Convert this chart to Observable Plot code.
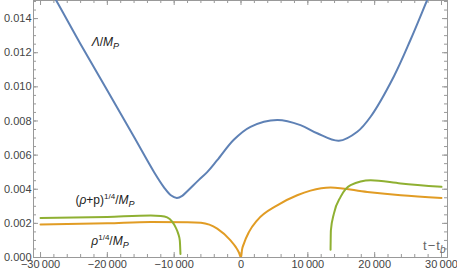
<!DOCTYPE html>
<html><head><meta charset="utf-8">
<script src="https://cdn.jsdelivr.net/npm/d3@7"></script>
<script src="https://cdn.jsdelivr.net/npm/@observablehq/plot@0.6"></script>
<style>body{margin:0;background:#fff} svg{display:block}</style>
</head><body><div id="chart"></div>
<script>
// Λ/M_P
const tLambda = [-30000,-28000,-24000,-20000,-16000,-13000,-11500,-10500,-9600,-8800,-8000,-6300,-5060,-3560,-1080,1420,5420,8900,11400,14640,17400,19390,22870,25370,27870,30000];
const vLambda = [0.0166,0.0153,0.0125,0.00978,0.00706,0.0050,0.0041,0.00365,0.00349,0.00361,0.00390,0.00455,0.0050,0.0057,0.0069,0.00766,0.00806,0.00776,0.00728,0.00684,0.00737,0.00825,0.01061,0.01276,0.0151,0.0171];
// ρ^{1/4}/M_P
const tRho = [-30000,-20000,-13500,-8000,-6000,-3560,-1570,-800,-330,0,150,420,1200,2420,5420,8410,10400,13400,18900,23900,30000];
const vRho = [0.00193,0.00200,0.00208,0.00207,0.00203,0.00169,0.00100,0.00062,0.00031,0,0.00045,0.0008,0.00150,0.00218,0.00306,0.00365,0.00392,0.0041,0.00384,0.00365,0.00349];
// (ρ+p)^{1/4}/M_P, two branches
const tRhoP1 = [-30000,-20000,-13500,-12000,-11050,-10300,-9800,-9400,-9160,-9060];
const vRhoP1 = [0.00231,0.00238,0.00246,0.00243,0.00235,0.0021,0.00178,0.0014,0.0010,0.0002];
const tRhoP2 = [13400,13450,13900,14900,16400,19400,23900,30000];
const vRhoP2 = [0.00045,0.00159,0.00257,0.00355,0.00424,0.00453,0.00434,0.00414];

const xMajor = [-30000,-20000,-10000,0,10000,20000,30000];
const xLabels = ["−30\u2009000","−20\u2009000","−10\u2009000","0","10\u2009000","20\u2009000","30\u2009000"];
const xMinor = d3.range(-30000, 30001, 2000);
const yMajor = [0,0.002,0.004,0.006,0.008,0.010,0.012,0.014];
const yLabels = ["0.000","0.002","0.004","0.006","0.008","0.010","0.012","0.014"];
const yMinor = d3.range(0, 0.01501, 0.0005);

const lambda = tLambda.map((t,i)=>({t, v:vLambda[i]}));
const rho = tRho.map((t,i)=>({t, v:vRho[i]}));
const rhoP1 = tRhoP1.map((t,i)=>({t, v:vRhoP1[i]}));
const rhoP2 = tRhoP2.map((t,i)=>({t, v:vRhoP2[i]}));

const labels = [
  {key:"L", t:-20300, v:0.01242},
  {key:"RP", t:-20350, v:0.00316},
  {key:"R", t:-19600, v:0.00076}
];
const labelParts = {
  L: [["Λ","i"],["/",""],["M","i"],["P","sub"]],
  RP: [["(",""],["ρ","i"],["+p)",""],["1/4","sup"],["/",""],["M","i"],["P","sub"]],
  R: [["ρ","i"],["1/4","sup"],["/",""],["M","i"],["P","sub"]],
  T: [["t\u200a−\u200at",""],["b","subb"]]
};
const labelText = {L:"Λ/MP", RP:"(ρ+p)1/4/MP", R:"ρ1/4/MP", T:"t\u200a−\u200atb"};

const FH = 257, FW = 414;
const tickC = "#999";
const plot = Plot.plot({
  width: 457, height: 273,
  marginLeft: 33, marginRight: 10, marginTop: 0, marginBottom: 16,
  x: {domain: [-31050, 30900], axis: null},
  y: {domain: [0, 0.01506], axis: null},
  style: {fontFamily: "'Liberation Sans', Arial, sans-serif", fontSize: "11px", color: "#444", background: "#fff"},
  marks: [
    Plot.frame({stroke: tickC}),
    Plot.tickX(xMajor, {x: d=>d, stroke: tickC, insetTop: FH-5}),
    Plot.tickX(xMinor, {x: d=>d, stroke: tickC, insetTop: FH-3}),
    Plot.tickX(xMajor, {x: d=>d, stroke: tickC, insetBottom: FH-5}),
    Plot.tickX(xMinor, {x: d=>d, stroke: tickC, insetBottom: FH-3}),
    Plot.tickY(yMajor, {y: d=>d, stroke: tickC, insetRight: FW-5}),
    Plot.tickY(yMinor, {y: d=>d, stroke: tickC, insetRight: FW-3}),
    Plot.tickY(yMajor, {y: d=>d, stroke: tickC, insetLeft: FW-5}),
    Plot.tickY(yMinor, {y: d=>d, stroke: tickC, insetLeft: FW-3}),
    Plot.axisX(xMajor, {label: null, tickSize: 0, tickPadding: 3, tickFormat: (d,i)=>xLabels[i], fill: "#444", fontSize: 11}),
    Plot.axisY(yMajor, {label: null, tickSize: 0, tickPadding: 2, tickFormat: (d,i)=>yLabels[i], fill: "#444", fontSize: 11}),
    Plot.line(lambda, {x:"t", y:"v", stroke:"#5E81B5", strokeWidth:2, curve:"catmull-rom", clip:true}),
    Plot.line(rho, {x:"t", y:"v", stroke:"#E19C24", strokeWidth:2, curve:"monotone-x", clip:true}),
    Plot.line(rhoP1, {x:"t", y:"v", stroke:"#8FB032", strokeWidth:2, curve:"monotone-x", clip:true}),
    Plot.line(rhoP2, {x:"t", y:"v", stroke:"#8FB032", strokeWidth:2, curve:"monotone-x", clip:true}),
    Plot.text(labels, {x:"t", y:"v", text: d=>labelText[d.key], textAnchor:"middle", lineAnchor:"bottom", fontSize:12, fill:"#222"}),
    Plot.text([labelText.T], {frameAnchor:"bottom-right", text: d=>d, textAnchor:"end", lineAnchor:"bottom", dx:-2, dy:-8, fontSize:13, fill:"#666"})
  ]
});
document.getElementById("chart").appendChild(plot);
// rich formatting of the curve labels (italics, sub/superscripts)
const byText = {};
for (const k in labelText) byText[labelText[k]] = k;
d3.select(plot).selectAll("text").each(function(){
  const k = byText[this.textContent];
  if (!k) return;
  const sel = d3.select(this);
  sel.text(null);
  let shift = 0;
  for (const [s, style] of labelParts[k]) {
    const ts = sel.append("tspan").text(s);
    let target = 0;
    if (style === "i") ts.attr("font-style","italic");
    if (style === "sub") { ts.attr("font-style","italic").attr("font-size","9"); target = 3; }
    if (style === "subb") { ts.attr("font-style","italic").attr("font-size","10"); target = 3; }
    if (style === "sup") { ts.attr("font-size","8"); target = -5; }
    if (target !== shift) { ts.attr("dy", target - shift); shift = target; }
  }
});
</script></body></html>
